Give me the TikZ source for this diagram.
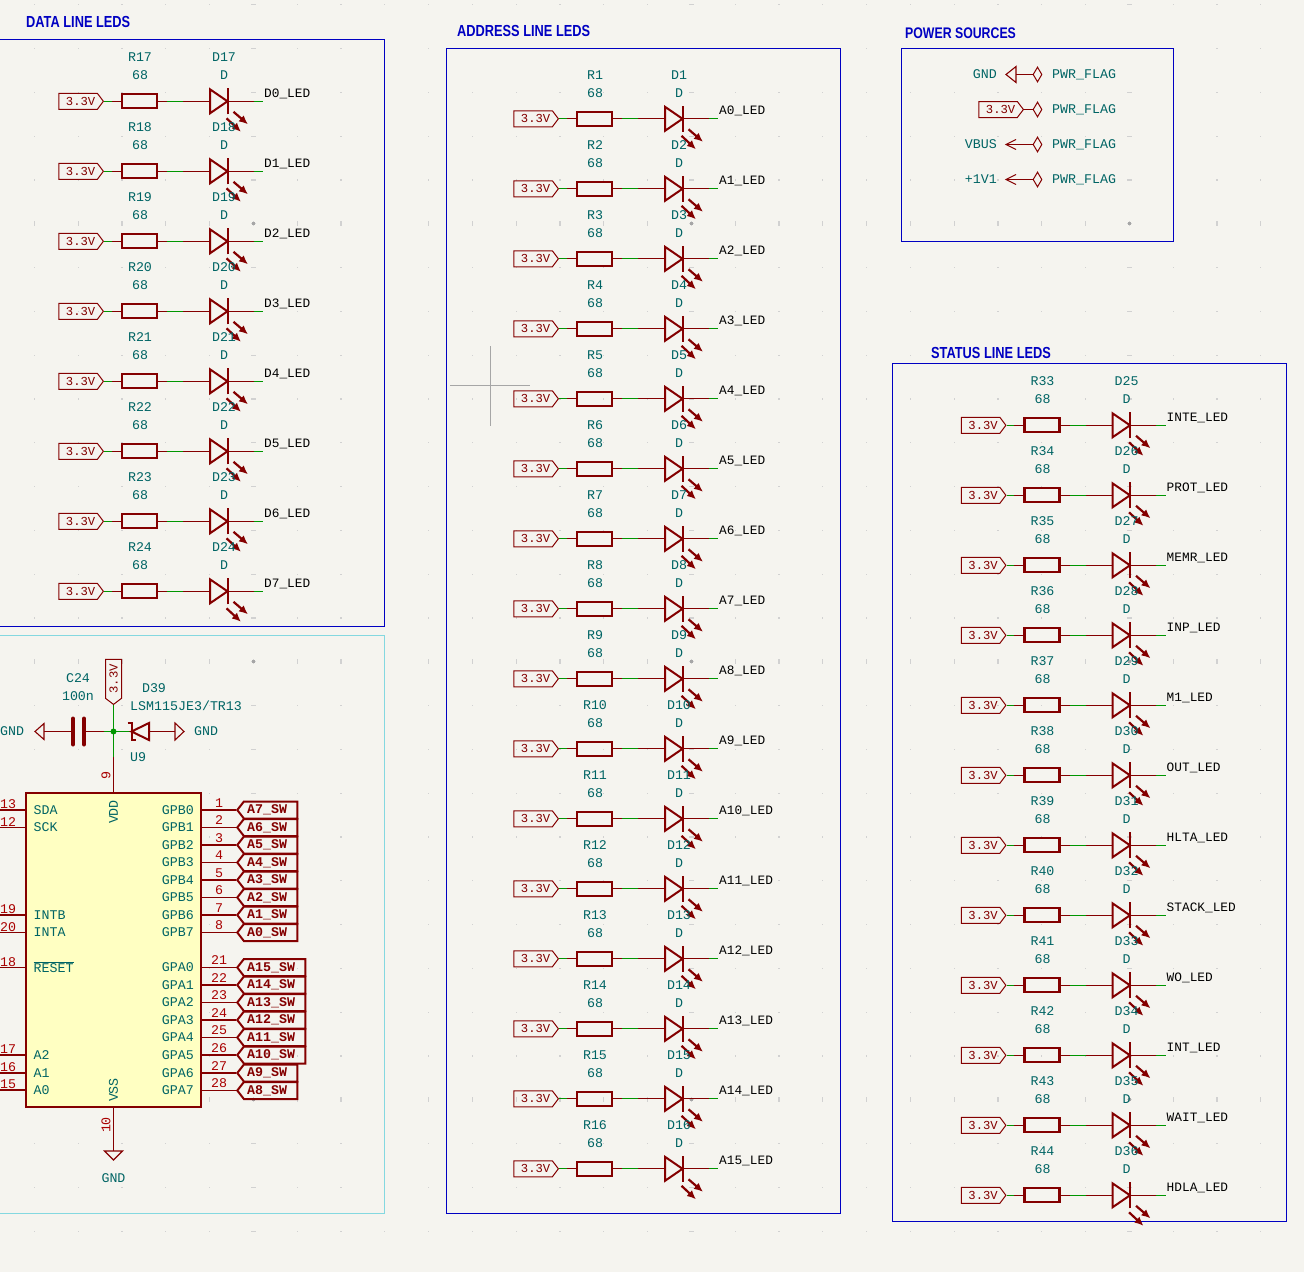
\documentclass[tikz,border=0pt]{standalone}
\usepackage{fontspec}
\setmainfont{Liberation Mono}
\newfontfamily\titlefont{Liberation Sans}
\usetikzlibrary{arrows.meta}
\usetikzlibrary{shapes.geometric}
\usetikzlibrary{shapes.symbols}
\usetikzlibrary{calc}

\definecolor{sheet}{HTML}{F5F4EF}
\definecolor{maroon}{HTML}{840000}
\definecolor{wiregreen}{HTML}{009600}
\definecolor{teal}{HTML}{006464}
\definecolor{pinred}{HTML}{A90000}
\definecolor{noteblue}{HTML}{0000C2}
\definecolor{notecyan}{HTML}{84D8E0}
\definecolor{chipfill}{HTML}{FFFFC2}

\newcommand{\schfont}{\fontsize{13.3}{14}\selectfont}
\newcommand{\sheettitle}[1]{\scalebox{1}[1.25]{#1}}

\tikzset{
    wire/.style={wiregreen,line width=1.2pt},
    pinline/.style={maroon,line width=1.1pt},
    txt/.style={inner sep=0pt,text=teal,font=\schfont},
    pinnum/.style={inner sep=0pt,text=pinred,font=\schfont},
    netname/.style={inner sep=0pt,anchor=west,text=black,font=\fontsize{12.8}{14}\selectfont},
    title/.style={inner sep=0pt,anchor=west,text=noteblue,font=\fontsize{12.8}{14}\selectfont\titlefont\bfseries},
    frame/.style={draw=noteblue,line width=1pt},
    powerflag/.style={draw=maroon,line width=1pt,signal,signal to=east,signal pointer angle=106,
        minimum height=16pt,minimum width=44.5pt,inner sep=0pt,text=maroon,font=\fontsize{12.2}{14}\selectfont},
    swflag/.style={draw=maroon,line width=2pt,signal,signal to=west,signal pointer angle=104,
        minimum height=17pt,inner sep=0pt,text=maroon,font=\schfont\bfseries},
    resbox/.style={draw=maroon,line width=2.2pt,minimum width=35pt,minimum height=14pt,inner sep=0pt},
    pwrflag/.style={draw=maroon,line width=1pt,diamond,minimum width=9pt,minimum height=15pt,inner sep=0pt},
    ledarrow/.style={maroon,line width=2.2pt,-{Latex[length=9pt,width=8pt]}},
}

% One LED line: id, x of the flag tip, y, R number, D number, net name
\newcommand{\ledrow}[6]{
    \node (flag#1) [powerflag,anchor=east] at (#2,#3) {\hspace{5pt}3.3V};
    \node (res#1) [resbox] at (#2+35.5,#3) {};
    \coordinate (an#1) at (#2+106,#3);
    \coordinate (ka#1) at (#2+123.5,#3);
    \coordinate (end#1) at (#2+159,#3);
    \draw [wire] (flag#1.east) -- (res#1.west);
    \draw [wire] (res#1.east) -- (an#1);
    \draw [wire] (ka#1) -- (end#1);
    \draw [pinline] (res#1.west) -- ++(-9,0);
    \draw [pinline] (res#1.east) -- ++(9,0);
    \draw [pinline] (an#1) -- ++(-27,0);
    \draw [pinline] (ka#1) -- ++(26,0);
    \draw [maroon,line width=2pt,line join=miter] (an#1) -- ++(0,-12) -- (ka#1) -- (an#1 |- 0,#3+12) -- cycle;
    \draw [maroon,line width=2pt] ([yshift=-13pt]ka#1) -- ([yshift=13pt]ka#1);
    \draw [ledarrow] ($(ka#1)+(6,10.5)$) -- ++(14.5,12.5);
    \draw [ledarrow] ($(ka#1)+(-1,17)$) -- ++(14.5,13.5);
    \node (rn#1) [txt] at (#2+36,#3-44) {R#4};
    \node (rv#1) [txt] at (#2+36,#3-26) {68};
    \node (dn#1) [txt] at (#2+120,#3-44) {D#5};
    \node (dv#1) [txt] at (#2+120,#3-26) {D};
    \node (net#1) [netname] at (#2+160,#3-7.5) {#6};
}

\begin{document}
\begin{tikzpicture}[x=1pt,y=-1pt]
    \useasboundingbox (0,0) rectangle (1304,1272);
    \fill [sheet] (0,0) rectangle (1304,1272);

    % Grid dots
    \foreach \c in {0,...,29}
        \foreach \r in {0,...,28}
            \fill [black!18] ({34.3+43.8*\c-.6},{4.7+43.8*\r-.6}) rectangle ++(1.2,1.2);
    \foreach \c in {5,15,25}
        \foreach \r in {0,...,28}
            \fill [black!18] ({34.3+43.8*\c-2.4},{4.7+43.8*\r-.6}) rectangle ++(4.8,1.2);
    \foreach \c in {0,...,29}
        \foreach \r in {5,15,25}
            \fill [black!18] ({34.3+43.8*\c-.6},{4.7+43.8*\r-2.4}) rectangle ++(1.2,4.8);
    \foreach \c in {5,15,25}
        \foreach \r in {5,15,25}
            \fill [black!35] ({34.3+43.8*\c-1.6},{4.7+43.8*\r-1.6}) rectangle ++(3.2,3.2);

    % Crosshair
    \draw [black!35,line width=.6pt] (450,385) -- (530,385);
    \draw [black!35,line width=.6pt] (490.5,346) -- (490.5,426);

    % Frames
    \draw [frame] (-5,39.5) rectangle (384.5,626.5);
    \draw [frame] (446.5,48.5) rectangle (840.5,1213.5);
    \draw [frame] (901.5,48.5) rectangle (1173.5,241);
    \draw [frame] (892.5,363.5) rectangle (1286.5,1221);
    \draw [draw=notecyan,line width=1pt] (-5,635.5) rectangle (384.5,1213.5);

    % Titles
    \node (tdata) [title] at (26,22) {\sheettitle{DATA LINE LEDS}};
    \node (taddr) [title] at (457,31) {\sheettitle{ADDRESS LINE LEDS}};
    \node (tpower) [title,font=\fontsize{12.3}{14}\selectfont\titlefont\bfseries] at (905,33) {\sheettitle{POWER SOURCES}};
    \node (tstat) [title] at (931,353) {\sheettitle{STATUS LINE LEDS}};

    % Data lines
    \foreach \i in {0,...,7}{
        \pgfmathtruncatemacro\num{17+\i}
        \pgfmathsetmacro\ypos{101.3+70*\i}
        \ledrow{d\i}{104}{\ypos}{\num}{\num}{D\i\_LED}
    }

    % Address lines
    \foreach \i in {0,...,15}{
        \pgfmathtruncatemacro\num{1+\i}
        \pgfmathsetmacro\ypos{118.8+70*\i}
        \ledrow{a\i}{559}{\ypos}{\num}{\num}{A\i\_LED}
    }

    % Status lines
    \foreach \net [count=\i from 0] in {INTE,PROT,MEMR,INP,M1,OUT,HLTA,STACK,WO,INT,WAIT,HDLA}{
        \pgfmathtruncatemacro\rnum{33+\i}
        \pgfmathtruncatemacro\dnum{25+\i}
        \pgfmathsetmacro\ypos{425.3+70*\i}
        \ledrow{s\i}{1006.5}{\ypos}{\rnum}{\dnum}{\net\_LED}
    }

    % Power sources
    \foreach \name/\ypos [count=\i] in {GND/74.5,3.3V/109.5,VBUS/144.5,+1V1/179.5}{
        \node (pf\i) [pwrflag] at (1037.5,\ypos) {};
        \node (pt\i) [txt,anchor=west] at (1052,\ypos) {PWR\_FLAG};
        \coordinate (ps\i) at (1006,\ypos);
    }
    \node (pn1) [txt,anchor=east] at (997,74.5) {GND};
    \node (pbox) [powerflag,anchor=east] at (1024,109.5) {\hspace{5pt}3.3V};
    \node (pn3) [txt,anchor=east] at (997,144.5) {VBUS};
    \node (pn4) [txt,anchor=east] at (997,179.5) {+1V1};
    \draw [pinline] (ps1) -- ++(10,-8) -- ++(0,16) -- cycle;
    \draw [pinline] ($(ps1)+(10,0)$) -- (pf1.west);
    \draw [pinline] (pbox.east) -- (pf2.west);
    \draw [pinline] (ps3) -- (pf3.west);
    \draw [pinline] ($(ps3)+(10,-5)$) -- (ps3) -- ++(10,5);
    \draw [pinline] (ps4) -- (pf4.west);
    \draw [pinline] ($(ps4)+(10,-5)$) -- (ps4) -- ++(10,5);

    % Expander
    \node (chip) [draw=maroon,fill=chipfill,line width=2pt,minimum width=175pt,minimum height=314pt,inner sep=0pt] at (113.5,950) {};
    \node (vdd) [txt,rotate=90] at (113.5,812) {VDD};
    \node (vss) [txt,rotate=90] at (113.5,1090) {VSS};

    \foreach \num/\ypos/\name in {13/810/SDA,12/827.5/SCK,19/915/INTB,20/932.5/INTA,18/967.5/$\overline{\hbox{RESET}}$,17/1055/A2,16/1073/A1,15/1090/A0}{
        \coordinate (lp\num) at (-2,\ypos);
        \draw [pinline] (lp\num) -- (lp\num -| chip.west);
        \node (ln\num) [pinnum,anchor=south west] at (0,\ypos-1) {\num};
        \node (lt\num) [txt,anchor=west] at (33.5,\ypos) {\name};
    }
    \foreach \num/\ypos/\name/\net/\wid in {1/810/GPB0/A7/60,2/827.5/GPB1/A6/60,3/845/GPB2/A5/60,4/862.5/GPB3/A4/60,5/880/GPB4/A3/60,6/897.5/GPB5/A2/60,7/915/GPB6/A1/60,8/932.5/GPB7/A0/60,21/967.5/GPA0/A15/68,22/985/GPA1/A14/68,23/1002.5/GPA2/A13/68,24/1020/GPA3/A12/68,25/1037.5/GPA4/A11/68,26/1055/GPA5/A10/68,27/1073/GPA6/A9/60,28/1090.5/GPA7/A8/60}{
        \node (sw\num) [swflag,minimum width=\wid pt,anchor=west] at (236,\ypos) {\raisebox{-1pt}{\net\_SW}\kern7pt};
        \draw [pinline] (sw\num.west -| chip.east) -- (sw\num.west);
        \node (rn\num) [pinnum] at (219,\ypos-7) {\num};
        \node (rt\num) [txt,anchor=east] at (194,\ypos) {\name};
    }

    % Expander supply
    \node (vflag) [powerflag,signal to=west,signal from=nowhere,minimum width=45pt,rotate=90,anchor=west] at (113.5,705) {3.3V};
    \coordinate (junc) at (113.5,731.5);
    \coordinate (capl) at (73,731.5);
    \coordinate (capr) at (84,731.5);
    \coordinate (gl) at (44,731.5);
    \coordinate (zk) at (131.5,731.5);
    \coordinate (za) at (149,731.5);
    \coordinate (gr) at (175,731.5);
    \draw [wire] (vflag.west) -- (junc);
    \draw [wire] (junc) -- (chip.north -| junc);
    \draw [pinline] (chip.north) -- ++(0,-35);
    \draw [wire] (capr) -- (junc);
    \draw [pinline] (capr) -- ++(20,0);
    \draw [pinline] (gl) -- (capl);
    \draw [maroon,line width=4pt,line cap=round] ($(capl)+(0,-13)$) -- ($(capl)+(0,13)$);
    \draw [maroon,line width=4pt,line cap=round] ($(capr)+(0,-13)$) -- ($(capr)+(0,13)$);
    \draw [pinline] (gl) -- ++(0,-8) -- ++(-9,8) -- ++(9,8) -- cycle;
    \draw [wire] (junc) -- (zk);
    \draw [pinline] (za) -- (gr);
    \draw [maroon,line width=2pt] (za) -- ++(0,-8.5) -- (zk) -- ++(17.5,8.5) -- cycle;
    \draw [maroon,line width=2pt] ($(zk)+(-4,-8.5)$) -- ++(4,0) -- ++(0,17) -- ++(4,0);
    \draw [pinline] (gr) -- ++(0,-8.5) -- ++(9,8.5) -- ++(-9,8.5) -- cycle;
    \fill [wiregreen] (junc) circle (3);
    \node (c24) [txt] at (78,678.5) {C24};
    \node (c24v) [txt] at (78,696.5) {100n};
    \node (gndl) [txt,anchor=west] at (0,731.5) {GND};
    \node (gndr) [txt,anchor=west] at (194,731.5) {GND};
    \node (d39) [txt] at (154,688) {D39};
    \node (d39v) [txt,anchor=west] at (130,705.5) {LSM115JE3/TR13};
    \node (u9) [txt] at (138,757.5) {U9};
    \node (pin9) [pinnum,rotate=90] at (106,775) {9};

    % Expander ground
    \coordinate (gb) at (113.5,1151);
    \draw [pinline] (chip.south) -- (gb);
    \draw [pinline] ($(gb)+(-9,0)$) -- ++(18,0) -- ++(-9,9) -- cycle;
    \node (gndb) [txt] at (113.5,1178) {GND};
    \node (pin10) [pinnum,rotate=90] at (106,1125) {10};
\end{tikzpicture}
\end{document}
